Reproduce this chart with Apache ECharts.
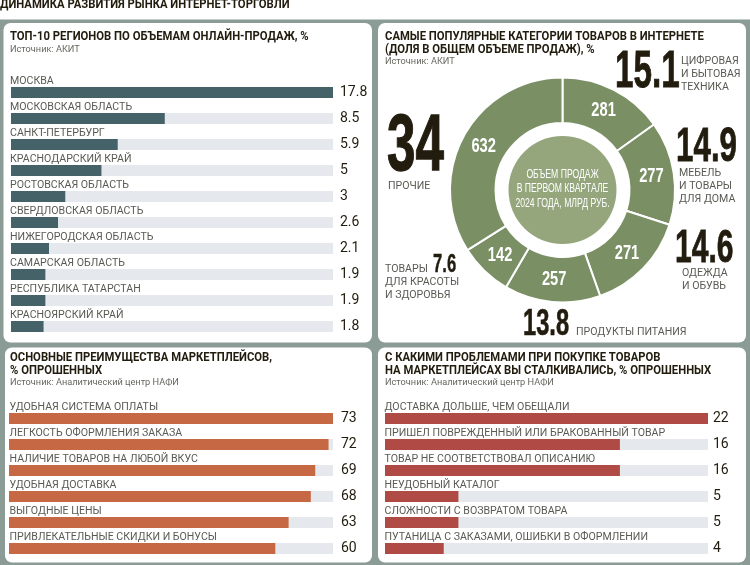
<!DOCTYPE html>
<html>
<head>
<meta charset="utf-8">
<title>Динамика развития рынка интернет-торговли</title>
<script src="https://cdn.jsdelivr.net/npm/echarts@6/dist/echarts.min.js"></script>
<style>
  html, body { margin: 0; padding: 0; background: #fff; }
  #chart { width: 750px; height: 565px; }
</style>
</head>
<body>
<div id="chart"></div>
<script>
// Data
var regionNames = ['МОСКВА', 'МОСКОВСКАЯ ОБЛАСТЬ', 'САНКТ-ПЕТЕРБУРГ', 'КРАСНОДАРСКИЙ КРАЙ', 'РОСТОВСКАЯ ОБЛАСТЬ',
  'СВЕРДЛОВСКАЯ ОБЛАСТЬ', 'НИЖЕГОРОДСКАЯ ОБЛАСТЬ', 'САМАРСКАЯ ОБЛАСТЬ', 'РЕСПУБЛИКА ТАТАРСТАН', 'КРАСНОЯРСКИЙ КРАЙ'];
var regionValues = [17.8, 8.5, 5.9, 5, 3, 2.6, 2.1, 1.9, 1.9, 1.8];

var benefitNames = ['УДОБНАЯ СИСТЕМА ОПЛАТЫ', 'ЛЕГКОСТЬ ОФОРМЛЕНИЯ ЗАКАЗА', 'НАЛИЧИЕ ТОВАРОВ НА ЛЮБОЙ ВКУС',
  'УДОБНАЯ ДОСТАВКА', 'ВЫГОДНЫЕ ЦЕНЫ', 'ПРИВЛЕКАТЕЛЬНЫЕ СКИДКИ И БОНУСЫ'];
var benefitValues = [73, 72, 69, 68, 63, 60];

var problemNames = ['ДОСТАВКА ДОЛЬШЕ, ЧЕМ ОБЕЩАЛИ', 'ПРИШЕЛ ПОВРЕЖДЕННЫЙ ИЛИ БРАКОВАННЫЙ ТОВАР', 'ТОВАР НЕ СООТВЕТСТВОВАЛ ОПИСАНИЮ',
  'НЕУДОБНЫЙ КАТАЛОГ', 'СЛОЖНОСТИ С ВОЗВРАТОМ ТОВАРА', 'ПУТАНИЦА С ЗАКАЗАМИ, ОШИБКИ В ОФОРМЛЕНИИ'];
var problemValues = [22, 16, 16, 5, 5, 4];

var categorySales = [281, 277, 271, 257, 142, 632];
var categoryShares = ['15.1', '14.9', '14.6', '13.8', '7.6', '34'];

var BODY_FONT = 'Roboto';
var FIG_FONT = '"Liberation Sans"';
var GREY = '#5a5a54';
var DARK = '#211c0e';
var PIE_X = 562.5, PIE_Y = 190;

// one horizontal bar block: category name above the bar, value at the right end
function addBars(option, left, top, width, names, values, color, valueGap, nameGap) {
  var idx = option.grid.length;
  option.grid.push({ left: left, top: top, width: width, height: names.length * 26 });
  option.xAxis.push({ gridIndex: idx, type: 'value', min: 0, max: Math.max.apply(null, values), show: false });
  option.yAxis.push({
    gridIndex: idx, type: 'category', inverse: true, data: names,
    axisLine: { show: false }, axisTick: { show: false },
    axisLabel: {
      inside: true, margin: nameGap, interval: 0, align: 'left', verticalAlign: 'bottom',
      padding: [0, 0, 6, 0], fontFamily: BODY_FONT, fontSize: 10.6, color: GREY
    }
  });
  option.yAxis.push({
    gridIndex: idx, type: 'category', inverse: true, position: 'right', data: values.map(String),
    axisLine: { show: false }, axisTick: { show: false },
    axisLabel: { margin: valueGap, interval: 0, align: 'left', fontFamily: BODY_FONT, fontSize: 14, color: DARK }
  });
  option.series.push({
    type: 'bar', xAxisIndex: idx, yAxisIndex: option.yAxis.length - 2,
    data: values, barWidth: 11, silent: true,
    showBackground: true, backgroundStyle: { color: '#e5e9ee' },
    itemStyle: { color: color }
  });
}

function panel(x, y, w, h) {
  return { type: 'rect', z: -10, shape: { x: x, y: y, width: w, height: h, r: 7 }, style: { fill: '#fff' } };
}

function txt(text, x, y, font, size, color, weight, align) {
  return {
    type: 'text', x: x, y: y, z: 10,
    style: {
      text: text, fontFamily: font, fontSize: size, fill: color, fontWeight: weight || 'normal',
      textAlign: align || 'left', textVerticalAlign: 'middle'
    }
  };
}

function heading(text, x, y) {
  var el = txt(text, x, y, BODY_FONT, 12, DARK, 'bold');
  el.scaleX = 0.94;
  return el;
}

function small(text, x, y) {
  return txt(text, x, y, BODY_FONT, 10.6, GREY);
}

function source(text, x, y) {
  return txt(text, x, y, BODY_FONT, 9.2, '#66665f');
}

// tall condensed percentage figures
function bigNumber(text, x, y, size) {
  var el = txt(text, x, y, FIG_FONT, size, DARK, 'bold');
  el.scaleX = 0.64;
  // thicken the strokes a little, the original face is heavier
  el.style.stroke = DARK;
  el.style.lineWidth = size / 60;
  return el;
}

function centerLine(text, y) {
  var el = txt(text, PIE_X, y, FIG_FONT, 12, '#fff', 'normal', 'center');
  el.scaleX = 0.72;
  return el;
}

// slice figures are narrowed, which pie labels cannot do, so place them from the shares of the total
function sliceLabels() {
  var total = categorySales.reduce(function (a, b) { return a + b; }, 0);
  var run = 0;
  return categorySales.map(function (v) {
    var mid = (run + v / 2) / total * Math.PI * 2;
    run += v;
    var el = txt(String(v), PIE_X + 90 * Math.sin(mid), PIE_Y - 90 * Math.cos(mid), FIG_FONT, 21, '#fff', 'bold', 'center');
    el.scaleX = 0.7;
    return el;
  });
}

var option = {
  backgroundColor: '#fff',
  animation: false,
  grid: [], xAxis: [], yAxis: [], series: [],
  graphic: { elements: [] }
};

addBars(option, 11, 79.5, 322, regionNames, regionValues, '#456268', 7, -1);
addBars(option, 9, 405.5, 324, benefitNames, benefitValues, '#c66844', 8, 0.5);
addBars(option, 385, 405.5, 323, problemNames, problemValues, '#b04a44', 5, -0.5);

option.series.push({
  type: 'pie', center: [PIE_X, PIE_Y], radius: [67, 112.5], startAngle: 90, silent: true,
  data: categorySales.map(function (v) { return { value: v }; }),
  itemStyle: { color: '#7a8f64', borderColor: '#fff', borderWidth: 2 },
  label: { show: false },
  labelLine: { show: false }
});

var g = [
  { type: 'rect', z: -11, shape: { x: 0, y: 19.5, width: 750, height: 546 }, style: { fill: '#8b9c96' } },
  panel(3.5, 23, 368.5, 319.5),
  panel(378, 23, 368, 319.5),
  panel(5, 347.5, 367, 215),
  panel(378, 347.5, 368, 215),
  { type: 'circle', z: 5, shape: { cx: PIE_X, cy: PIE_Y, r: 54 }, style: { fill: '#95a67d' } },

  heading('ДИНАМИКА РАЗВИТИЯ РЫНКА ИНТЕРНЕТ-ТОРГОВЛИ', 0, 4.5),

  heading('ТОП-10 РЕГИОНОВ ПО ОБЪЕМАМ ОНЛАЙН-ПРОДАЖ, %', 10, 37),
  source('Источник: АКИТ', 10, 49.5),

  heading('САМЫЕ ПОПУЛЯРНЫЕ КАТЕГОРИИ ТОВАРОВ В ИНТЕРНЕТЕ', 385, 37),
  heading('(ДОЛЯ В ОБЩЕМ ОБЪЕМЕ ПРОДАЖ), %', 385, 49.5),
  source('Источник: АКИТ', 385, 62),

  heading('ОСНОВНЫЕ ПРЕИМУЩЕСТВА МАРКЕТПЛЕЙСОВ,', 10, 358),
  heading('% ОПРОШЕННЫХ', 10, 371),
  source('Источник: Аналитический центр НАФИ', 10, 383),

  heading('С КАКИМИ ПРОБЛЕМАМИ ПРИ ПОКУПКЕ ТОВАРОВ', 385, 358),
  heading('НА МАРКЕТПЛЕЙСАХ ВЫ СТАЛКИВАЛИСЬ, % ОПРОШЕННЫХ', 385, 371),
  source('Источник: Аналитический центр НАФИ', 385, 383),

  // centre of the donut
  centerLine('ОБЪЕМ ПРОДАЖ', 174.5),
  centerLine('В ПЕРВОМ КВАРТАЛЕ', 189),
  centerLine('2024 ГОДА, МЛРД РУБ.', 203.5),

  // callouts around the donut
  bigNumber(categoryShares[0], 615, 73, 52),
  small('ЦИФРОВАЯ', 681, 61),
  small('И БЫТОВАЯ', 681, 74),
  small('ТЕХНИКА', 681, 87),

  bigNumber(categoryShares[1], 676, 147, 49),
  small('МЕБЕЛЬ', 679, 173),
  small('И ТОВАРЫ', 679, 186),
  small('ДЛЯ ДОМА', 679, 199),

  bigNumber(categoryShares[2], 675, 249, 47),
  small('ОДЕЖДА', 682, 273),
  small('И ОБУВЬ', 682, 286),

  bigNumber(categoryShares[3], 523, 325, 37),
  small('ПРОДУКТЫ ПИТАНИЯ', 576, 332),

  small('ТОВАРЫ', 385, 269),
  bigNumber(categoryShares[4], 433, 264.5, 26),
  small('ДЛЯ КРАСОТЫ', 385, 282),
  small('И ЗДОРОВЬЯ', 385, 295),

  bigNumber(categoryShares[5], 387, 148, 80),
  small('ПРОЧИЕ', 388, 186)
].concat(sliceLabels());
option.graphic.elements = g;

var myChart = echarts.init(document.getElementById('chart'));
myChart.setOption(option);
</script>
</body>
</html>
